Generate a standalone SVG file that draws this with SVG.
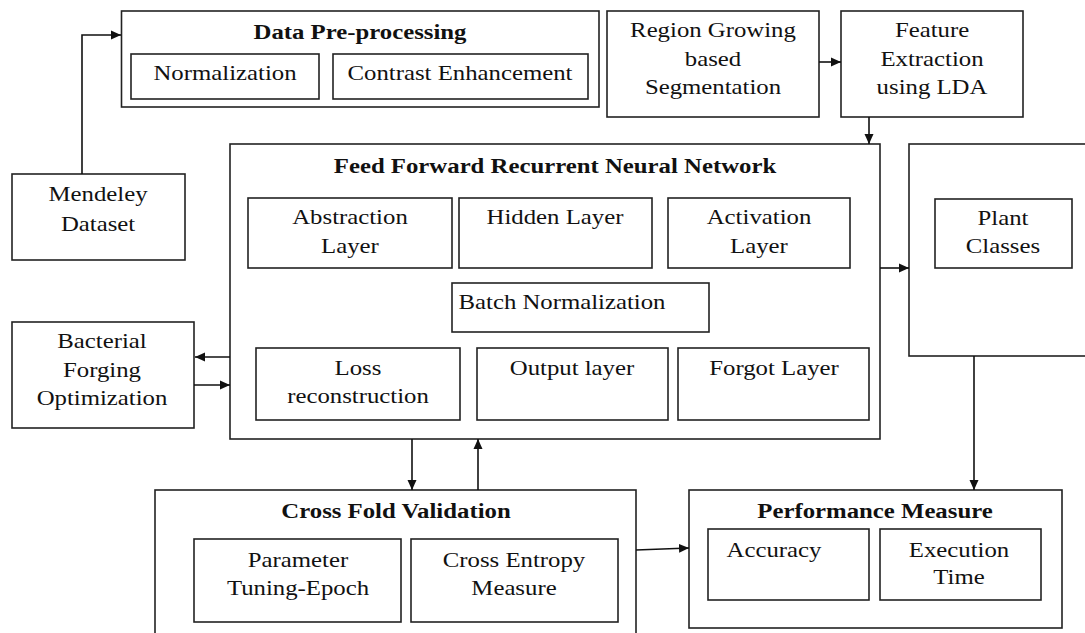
<svg xmlns="http://www.w3.org/2000/svg" width="1085" height="633" viewBox="0 0 1085 633">
<style>
rect{fill:none;stroke:#222;stroke-width:1.6}
text{font-family:"Liberation Serif","Times New Roman",serif;font-size:21px;fill:#111;text-anchor:middle}
.b{font-weight:bold}
.c path{fill:none;stroke:#111;stroke-width:1.6}
</style>
<defs>
<marker id="ah" markerUnits="userSpaceOnUse" markerWidth="11" markerHeight="10" refX="10" refY="5" orient="auto">
<path d="M0,0.5 L10,5 L0,9.5 z" fill="#111"/>
</marker>
</defs>
<rect x="0" y="0" width="1085" height="633" style="fill:#fff;stroke:none"/>

<g id="preprocessing">
<rect x="121.5" y="11" width="477.5" height="96"/>
<text class="b" transform="translate(360,39) scale(1.18 1)">Data Pre-processing</text>
<rect x="131" y="54" width="188" height="45"/>
<text transform="translate(225,80) scale(1.18 1)">Normalization</text>
<rect x="333" y="54" width="255" height="45"/>
<text transform="translate(460,80) scale(1.18 1)">Contrast Enhancement</text>
</g>

<g id="segmentation">
<rect x="607" y="11" width="212" height="106"/>
<text transform="translate(713,37) scale(1.18 1)">Region Growing</text>
<text transform="translate(713,66) scale(1.18 1)">based</text>
<text transform="translate(713,94) scale(1.18 1)">Segmentation</text>
</g>

<g id="feature">
<rect x="841" y="11" width="182" height="106"/>
<text transform="translate(932,37) scale(1.18 1)">Feature</text>
<text transform="translate(932,66) scale(1.18 1)">Extraction</text>
<text transform="translate(932,94) scale(1.18 1)">using LDA</text>
</g>

<g id="mendeley">
<rect x="12" y="174" width="173" height="86"/>
<text transform="translate(98,201) scale(1.18 1)">Mendeley</text>
<text transform="translate(98,231) scale(1.18 1)">Dataset</text>
</g>

<g id="ffrnn">
<rect x="230" y="144" width="650" height="295"/>
<text class="b" transform="translate(555,173) scale(1.18 1)">Feed Forward Recurrent Neural Network</text>
<rect x="248" y="198" width="204" height="70"/>
<text transform="translate(350,224) scale(1.18 1)">Abstraction</text>
<text transform="translate(350,253) scale(1.18 1)">Layer</text>
<rect x="459" y="198" width="193" height="70"/>
<text transform="translate(555,224) scale(1.18 1)">Hidden Layer</text>
<rect x="668" y="198" width="182" height="70"/>
<text transform="translate(759,224) scale(1.18 1)">Activation</text>
<text transform="translate(759,253) scale(1.18 1)">Layer</text>
<rect x="452" y="283" width="257" height="49"/>
<text transform="translate(562,309) scale(1.18 1)">Batch Normalization</text>
<rect x="256" y="348" width="204" height="72"/>
<text transform="translate(358,375) scale(1.18 1)">Loss</text>
<text transform="translate(358,403) scale(1.18 1)">reconstruction</text>
<rect x="477" y="348" width="191" height="72"/>
<text transform="translate(572,375) scale(1.18 1)">Output layer</text>
<rect x="678" y="348" width="191" height="72"/>
<text transform="translate(774,375) scale(1.18 1)">Forgot Layer</text>
</g>

<g id="plant">
<rect x="909" y="144" width="190" height="212"/>
<rect x="935" y="199" width="137" height="69"/>
<text transform="translate(1003,225) scale(1.18 1)">Plant</text>
<text transform="translate(1003,253) scale(1.18 1)">Classes</text>
</g>

<g id="bfo">
<rect x="12" y="322" width="182" height="106"/>
<text transform="translate(102,348) scale(1.18 1)">Bacterial</text>
<text transform="translate(102,377) scale(1.18 1)">Forging</text>
<text transform="translate(102,405) scale(1.18 1)">Optimization</text>
</g>

<g id="crossfold">
<rect x="155" y="490" width="481" height="160"/>
<text class="b" transform="translate(396,518) scale(1.18 1)">Cross Fold Validation</text>
<rect x="194" y="539" width="207" height="83"/>
<text transform="translate(298,567) scale(1.18 1)">Parameter</text>
<text transform="translate(298,595) scale(1.18 1)">Tuning-Epoch</text>
<rect x="411" y="539" width="207" height="83"/>
<text transform="translate(514,567) scale(1.18 1)">Cross Entropy</text>
<text transform="translate(514,595) scale(1.18 1)">Measure</text>
</g>

<g id="performance">
<rect x="689" y="490" width="373" height="138"/>
<text class="b" transform="translate(875,518) scale(1.18 1)">Performance Measure</text>
<rect x="708" y="529" width="161" height="71"/>
<text transform="translate(774,557) scale(1.18 1)">Accuracy</text>
<rect x="880" y="529" width="161" height="71"/>
<text transform="translate(959,557) scale(1.18 1)">Execution</text>
<text transform="translate(959,584) scale(1.18 1)">Time</text>
</g>

<g id="connectors" class="c">
<path d="M82,174 V35 H121" marker-end="url(#ah)"/>
<path d="M819,62 H841" marker-end="url(#ah)"/>
<path d="M869,117 V144" marker-end="url(#ah)"/>
<path d="M880,268 H909" marker-end="url(#ah)"/>
<path d="M230,357 H195" marker-end="url(#ah)"/>
<path d="M194,385 H230" marker-end="url(#ah)"/>
<path d="M412,439 V490" marker-end="url(#ah)"/>
<path d="M478,490 V439" marker-end="url(#ah)"/>
<path d="M636,550 L689,548" marker-end="url(#ah)"/>
<path d="M974,356 V490" marker-end="url(#ah)"/>
</g>
</svg>
